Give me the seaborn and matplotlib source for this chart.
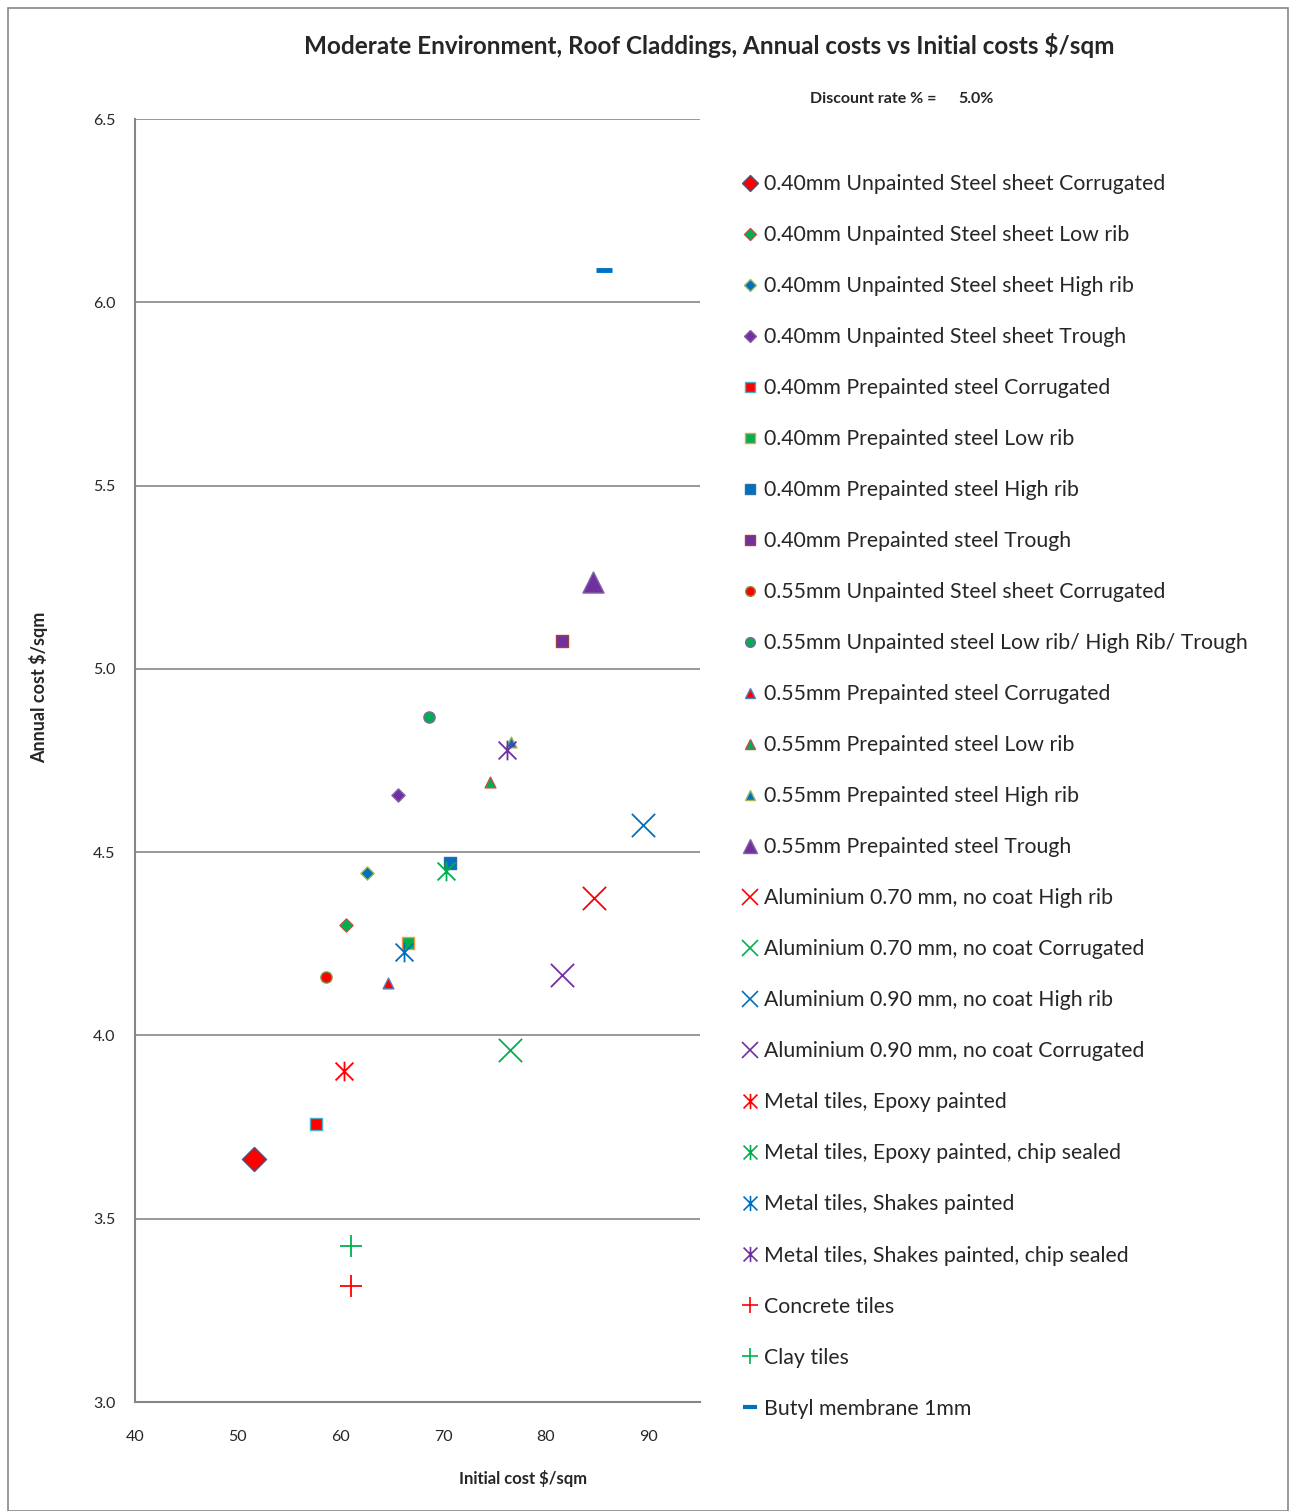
import numpy as np
import pandas as pd
import seaborn as sns
import matplotlib.pyplot as plt
from matplotlib.path import Path
from matplotlib.lines import Line2D
from matplotlib.patches import Rectangle

# series names, as in the legend
names = [
    "0.40mm Unpainted Steel sheet Corrugated",
    "0.40mm Unpainted Steel sheet Low rib",
    "0.40mm Unpainted Steel sheet High rib",
    "0.40mm Unpainted Steel sheet Trough",
    "0.40mm Prepainted steel Corrugated",
    "0.40mm Prepainted steel Low rib",
    "0.40mm Prepainted steel High rib",
    "0.40mm Prepainted steel Trough",
    "0.55mm Unpainted Steel sheet Corrugated",
    "0.55mm Unpainted steel Low rib/ High Rib/ Trough",
    "0.55mm Prepainted steel Corrugated",
    "0.55mm Prepainted steel Low rib",
    "0.55mm Prepainted steel High rib",
    "0.55mm Prepainted steel Trough",
    "Aluminium 0.70 mm, no coat High rib",
    "Aluminium 0.70 mm, no coat Corrugated",
    "Aluminium 0.90 mm, no coat High rib",
    "Aluminium 0.90 mm, no coat Corrugated",
    "Metal tiles, Epoxy painted",
    "Metal tiles, Epoxy painted, chip sealed",
    "Metal tiles, Shakes painted",
    "Metal tiles, Shakes painted, chip sealed",
    "Concrete tiles",
    "Clay tiles",
    "Butyl membrane 1mm",
]

# initial cost $/sqm
initial_cost = [51.6, 60.5, 62.6, 65.6, 57.6, 66.6, 70.7, 81.6, 58.6, 68.6,
                64.6, 74.6, 76.6, 84.6, 84.7, 76.5, 89.5, 81.6, 60.3, 70.3,
                66.2, 76.2, 61.0, 61.0, 85.7]

# annual cost $/sqm
annual_cost = [3.663, 4.301, 4.443, 4.656, 3.758, 4.252, 4.470, 5.076, 4.159, 4.869,
               4.143, 4.691, 4.800, 5.237, 4.375, 3.960, 4.574, 4.165, 3.903, 4.448,
               4.227, 4.779, 3.316, 3.426, 6.088]

# styling
RED, GREEN, BLUE, PURPLE = "#FF0000", "#00B050", "#0070C0", "#7030A0"
face_colors = [RED, GREEN, BLUE, PURPLE, RED, GREEN, BLUE, PURPLE, RED, GREEN,
               RED, GREEN, BLUE, PURPLE, RED, GREEN, BLUE, PURPLE, RED, GREEN,
               BLUE, PURPLE, RED, GREEN, BLUE]
edge_colors = ["#385D8A", "#C0504D", "#9BBB59", "#8064A2", "#4BACC6", "#F79646",
               "#2C6DAA", "#A0403D", "#7F9A48", "#8064A2", "#4F81BD", "#C0504D",
               "#9BBB59", "#8064A2"] + [None] * 11

# excel style star: an X with a vertical bar through it
star = Path([(-1, -1), (1, 1), (-1, 1), (1, -1), (0, -1.1), (0, 1.1)],
            [Path.MOVETO, Path.LINETO, Path.MOVETO, Path.LINETO, Path.MOVETO, Path.LINETO])
markers = ["D", "D", "D", "D", "s", "s", "s", "s", "o", "o",
           "^", "^", "^", "^", "x", "x", "x", "x", star, star,
           star, star, "+", "+", "_"]
plot_sizes = [150, 45, 45, 45, 70, 70, 70, 70, 65, 65,
              60, 60, 60, 230, 280, 280, 280, 280, 200, 200,
              200, 200, 260, 260, 120]
leg_sizes = [8, 6, 6, 6, 7, 7, 7, 7, 7, 7, 7, 7, 7, 10, 11, 11, 11, 11, 11, 11, 11, 11, 11, 11, 10]

sns.set_style("white")
plt.rcParams["font.family"] = ["Lato", "DejaVu Sans"]

fig = plt.figure(figsize=(12.93, 15.11), dpi=100)
ax = fig.add_axes([135 / 1293, 1 - 1402 / 1511, 565 / 1293, 1283 / 1511])

df = pd.DataFrame({"name": names, "initial": initial_cost, "annual": annual_cost})

for i, row in df.iterrows():
    filled = markers[i] in ("D", "s", "o", "^")
    kw = dict(color=face_colors[i], marker=markers[i], s=plot_sizes[i], zorder=3)
    if filled:
        kw.update(edgecolor=edge_colors[i], linewidth=1.0)
    else:
        kw.update(edgecolor=face_colors[i], linewidth=1.3 if markers[i] != "_" else 3.5)
    sns.scatterplot(x=[row["initial"]], y=[row["annual"]], ax=ax, legend=False, **kw)

ax.set_xlim(40, 95)
ax.set_ylim(3.0, 6.5)
ax.set_xticks([40, 50, 60, 70, 80, 90])
ax.set_yticks(np.arange(3.0, 6.51, 0.5))
ax.yaxis.set_major_formatter(plt.FormatStrFormatter("%.1f"))
ax.tick_params(length=0, labelsize=11.5)
ax.tick_params(axis="y", pad=14)
ax.tick_params(axis="x", pad=20)
ax.grid(axis="y", color="#868686", linewidth=1.2)
ax.grid(axis="x", visible=False)
for side in ["top", "right"]:
    ax.spines[side].set_visible(False)
for side in ["left", "bottom"]:
    ax.spines[side].set_color("#868686")
    ax.spines[side].set_linewidth(1.5)
ax.set_xlabel("Initial cost $/sqm", fontsize=12, fontweight="bold")
ax.set_ylabel("Annual cost $/sqm", fontsize=13, fontweight="bold")
ax.xaxis.set_label_coords((523 - 135) / 565, -(1470 - 1402) / 1283)
ax.yaxis.set_label_coords((48 - 135) / 565, (1402 - 687) / 1283)

# legend
handles = []
for i in range(len(names)):
    filled = markers[i] in ("D", "s", "o", "^")
    h = Line2D([], [], linestyle="none", marker=markers[i], markersize=leg_sizes[i],
               markerfacecolor=face_colors[i],
               markeredgecolor=edge_colors[i] if filled else face_colors[i],
               markeredgewidth=1.0 if filled else (1.2 if markers[i] != "_" else 3.0))
    handles.append(h)
fig.legend(handles, names, loc="upper left", bbox_to_anchor=(743 / 1293, 1 - 174 / 1511),
           frameon=False, fontsize=15.3, handlelength=0.7, handletextpad=0.3,
           labelspacing=1.46, borderpad=0, borderaxespad=0)

fig.text(709 / 1293, 1 - 45 / 1511,
         "Moderate Environment, Roof Claddings, Annual costs vs Initial costs $/sqm",
         ha="center", va="center", fontsize=17.5, fontweight="bold")
fig.text(810 / 1293, 1 - 99 / 1511, "Discount rate % =", ha="left", va="center",
         fontsize=11.5, fontweight="bold")
fig.text(958 / 1293, 1 - 99 / 1511, "5.0%", ha="left", va="center",
         fontsize=11.5, fontweight="bold")

fig.patches.append(Rectangle((8 / 1293, 0), 1280 / 1293, 1 - 8 / 1511, transform=fig.transFigure,
                             fill=False, edgecolor="#868686", linewidth=1.2))

fig.savefig("out.png", dpi=100)
